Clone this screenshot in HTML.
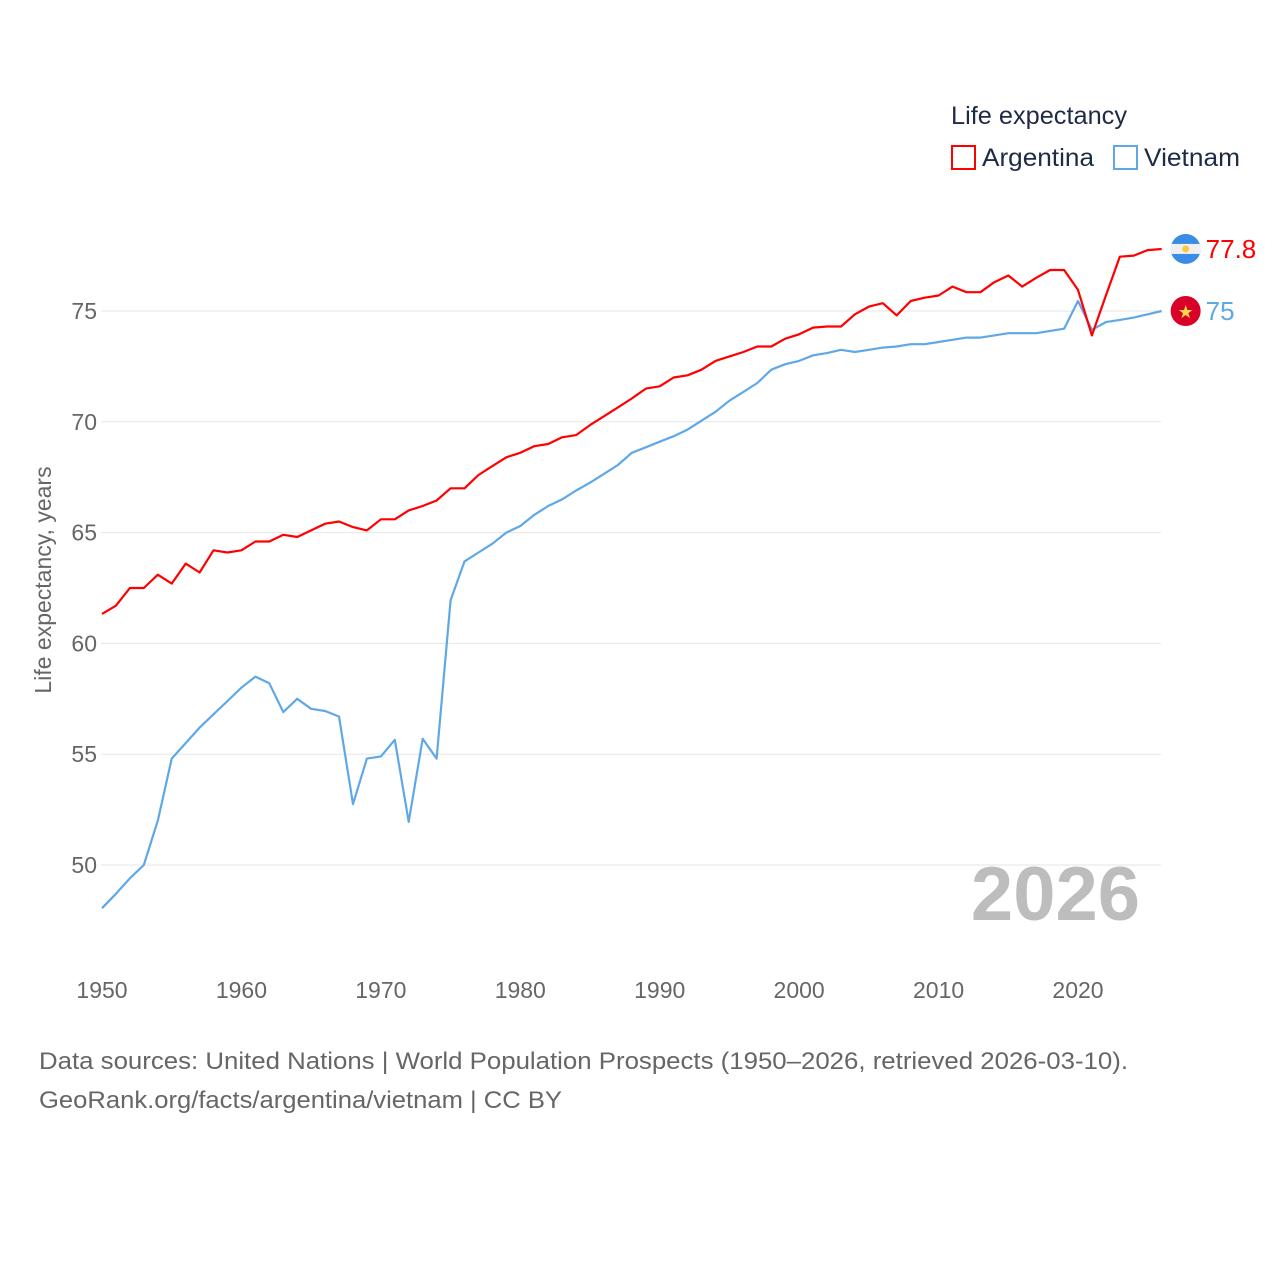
<!DOCTYPE html>
<html><head><meta charset="utf-8"><style>
body{margin:0;background:#fff;width:1280px;height:1280px;overflow:hidden;font-family:"Liberation Sans",sans-serif}
text{font-family:"Liberation Sans",sans-serif}
</style></head><body>
<svg id="chart" width="1280" height="1280" xmlns="http://www.w3.org/2000/svg">
<g id="grid"></g>
<g id="yticks"></g>
<g id="xticks"></g>
<text transform="translate(51,580) rotate(-90)" text-anchor="middle" font-size="23" fill="#666">Life expectancy, years</text>
<text x="1140" y="920" text-anchor="end" font-size="76" font-weight="bold" fill="#bdbdbd">2026</text>
<g id="series"></g>
<g>
<text x="951" y="124" font-size="25" fill="#1d2b45" textLength="176" lengthAdjust="spacingAndGlyphs">Life expectancy</text>
<g><rect x="952" y="146" width="23" height="23" fill="none" stroke="#ff0000" stroke-width="2"/><text x="982" y="166" font-size="25" fill="#1d2b45" textLength="112" lengthAdjust="spacingAndGlyphs">Argentina</text></g>
<g><rect x="1114" y="146" width="23" height="23" fill="none" stroke="#5fa8e8" stroke-width="2"/><text x="1144" y="166" font-size="25" fill="#1d2b45" textLength="96" lengthAdjust="spacingAndGlyphs">Vietnam</text></g>
</g>
<g id="ends"></g>
<text x="39" y="1069" font-size="24" fill="#666" textLength="1089" lengthAdjust="spacingAndGlyphs">Data sources: United Nations | World Population Prospects (1950–2026, retrieved 2026-03-10).</text>
<text x="39" y="1108" font-size="24" fill="#666" textLength="523" lengthAdjust="spacingAndGlyphs">GeoRank.org/facts/argentina/vietnam | CC BY</text>
</svg>
<script>
const years=[];for(let y=1950;y<=2026;y++)years.push(y);
const argentina=[61.33,61.7,62.5,62.5,63.1,62.7,63.6,63.2,64.2,64.1,64.2,64.6,64.6,64.9,64.8,65.1,65.4,65.5,65.25,65.1,65.6,65.6,66.0,66.2,66.45,67.0,67.0,67.6,68.0,68.4,68.6,68.9,69.0,69.3,69.4,69.85,70.25,70.65,71.05,71.5,71.6,72.0,72.1,72.35,72.75,72.95,73.15,73.4,73.4,73.75,73.95,74.25,74.3,74.3,74.85,75.2,75.35,74.8,75.45,75.6,75.7,76.1,75.85,75.85,76.3,76.6,76.1,76.5,76.85,76.85,75.95,73.9,75.7,77.45,77.5,77.75,77.8];
const vietnam=[48.05,48.7,49.4,50.0,52.0,54.8,55.5,56.2,56.8,57.4,58.0,58.5,58.2,56.9,57.5,57.05,56.95,56.7,52.75,54.8,54.9,55.65,51.95,55.7,54.8,61.95,63.7,64.1,64.5,65.0,65.3,65.8,66.2,66.5,66.9,67.25,67.65,68.05,68.6,68.85,69.1,69.35,69.65,70.05,70.45,70.95,71.35,71.75,72.35,72.6,72.75,73.0,73.1,73.25,73.15,73.25,73.35,73.4,73.5,73.5,73.6,73.7,73.8,73.8,73.9,74.0,74.0,74.0,74.1,74.2,75.45,74.15,74.5,74.6,74.7,74.85,75.0];
const yTicks=[50,55,60,65,70,75];
const xTicks=[1950,1960,1970,1980,1990,2000,2010,2020];
const NS="http://www.w3.org/2000/svg";
const x=v=>102+(v-1950)*(976/70);
const y=v=>311-(v-75)*22.16;
function mk(t,a,p){const e=document.createElementNS(NS,t);for(const k in a)e.setAttribute(k,a[k]);document.getElementById(p).appendChild(e);return e;}
yTicks.forEach(t=>{
 const l=mk('line',{x1:101,x2:1161,y1:y(t),y2:y(t),stroke:'#e6e6e6','stroke-width':1},'grid');
 
 
 const tx=mk('text',{x:97,y:y(t)+8,'text-anchor':'end','font-size':23,fill:'#666'},'yticks');
 tx.textContent=t;
 
 
});
xTicks.forEach(t=>{
 const tx=mk('text',{x:x(t),y:998,'text-anchor':'middle','font-size':23,fill:'#666'},'xticks');
 tx.textContent=t;
 
 
});
function line(vals,color,name){
 const d=vals.map((v,i)=>(i?'L':'M')+x(years[i]).toFixed(1)+','+y(v).toFixed(1)).join('');
 const p=mk('path',{d:d,fill:'none',stroke:color,'stroke-width':2.2,'stroke-linejoin':'round'},'series');
 
 
}
line(vietnam,'#5fa8e8','vietnam-line');
line(argentina,'#ff0000','argentina-line');
const ax=x(2026), aY=y(argentina[argentina.length-1]), vY=y(vietnam[vietnam.length-1]);
const g1=mk('g',{},'ends');


g1.innerHTML=`<clipPath id="ca"><circle cx="${ax+24}" cy="${aY}" r="15"/></clipPath><g clip-path="url(#ca)"><rect x="${ax+9}" y="${aY-15}" width="30" height="30" fill="#3c8ce6"/><rect x="${ax+9}" y="${aY-5}" width="30" height="10" fill="#f0f0f0"/><circle cx="${ax+24}" cy="${aY}" r="3.5" fill="#ffc83a"/></g>`;
const t1=mk('text',{x:ax+44,y:aY+9,'font-size':26,fill:'#ff0000'},'ends');
t1.textContent=argentina[argentina.length-1];


const g2=mk('g',{},'ends');


g2.innerHTML=`<circle cx="${ax+24}" cy="${vY}" r="15" fill="#d80027"/><text x="${ax+24}" y="${vY+7}" text-anchor="middle" font-size="18" fill="#ffda44">★</text>`;
const t2=mk('text',{x:ax+44,y:vY+9,'font-size':26,fill:'#5fa8e8'},'ends');
t2.textContent=vietnam[vietnam.length-1];


</script>
</body></html>
